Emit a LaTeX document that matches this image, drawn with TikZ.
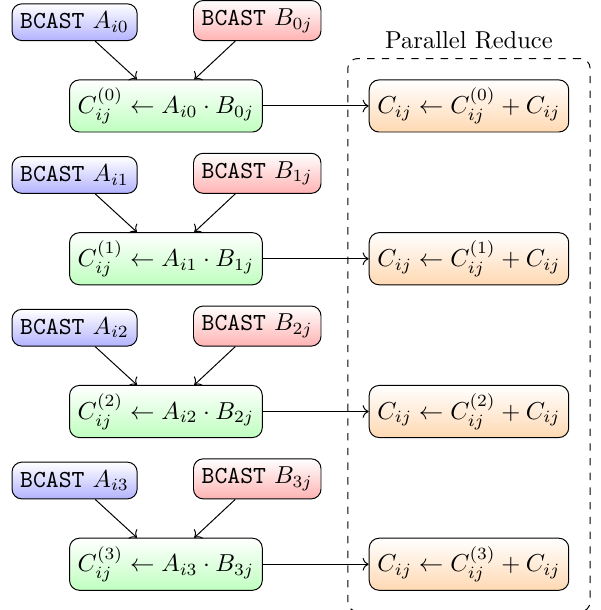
\documentclass[tikz,border=0pt]{standalone}
\usetikzlibrary{arrows, positioning, fit, calc, arrows.meta}
\tikzset{
    % broadcast boxes
    bcasta/.style={
           rectangle,
           rounded corners,
           draw=black,
           top color=white, bottom color=blue!30},
    bcastb/.style={
           rectangle,
           rounded corners,
           draw=black,
           top color=white, bottom color=red!30},
    % local product
    mult/.style={
           rectangle,
           rounded corners,
           draw=black,
           top color=white, bottom color=green!25},
    % reduce step
    accum/.style={
           rectangle,
           rounded corners,
           draw=black,
           top color=white, bottom color=orange!30},
    % arrow style
    pil/.style={->}
}

\begin{document}
\begin{tikzpicture}[node distance=1.43cm and 1.52cm, auto]
	\useasboundingbox (-2.38,1.52) rectangle (6.23,-7.23);
	%
	% products
	%
	\node[mult] (mul0) {$C_{ij}^{(0)} \leftarrow A_{i0} \cdot B_{0j}$};
	\node[mult, below = of mul0] (mul1) {$C_{ij}^{(1)} \leftarrow A_{i1} \cdot B_{1j}$};
	\node[mult, below = of mul1] (mul2) {$C_{ij}^{(2)} \leftarrow A_{i2} \cdot B_{2j}$};
	\node[mult, below = of mul2] (mul3) {$C_{ij}^{(3)} \leftarrow A_{i3} \cdot B_{3j}$};
	%
	% broadcasts
	%
	\node[bcasta, above = 0.55cm of mul0.north, xshift=-1.31cm] (bca0) {\texttt{BCAST} $A_{i0}$};
	\node[bcastb, above = 0.55cm of mul0.north, xshift=1.31cm] (bcb0) {\texttt{BCAST} $B_{0j}$};
	\node[bcasta, above = 0.55cm of mul1.north, xshift=-1.31cm] (bca1) {\texttt{BCAST} $A_{i1}$};
	\node[bcastb, above = 0.55cm of mul1.north, xshift=1.31cm] (bcb1) {\texttt{BCAST} $B_{1j}$};
	\node[bcasta, above = 0.55cm of mul2.north, xshift=-1.31cm] (bca2) {\texttt{BCAST} $A_{i2}$};
	\node[bcastb, above = 0.55cm of mul2.north, xshift=1.31cm] (bcb2) {\texttt{BCAST} $B_{2j}$};
	\node[bcasta, above = 0.55cm of mul3.north, xshift=-1.31cm] (bca3) {\texttt{BCAST} $A_{i3}$};
	\node[bcastb, above = 0.55cm of mul3.north, xshift=1.31cm] (bcb3) {\texttt{BCAST} $B_{3j}$};
	%
	% reduction
	%
	\node[accum, right = of mul0] (acc0) {$C_{ij} \leftarrow C_{ij}^{(0)} + C_{ij}$};
	\node[accum, right = of mul1] (acc1) {$C_{ij} \leftarrow C_{ij}^{(1)} + C_{ij}$};
	\node[accum, right = of mul2] (acc2) {$C_{ij} \leftarrow C_{ij}^{(2)} + C_{ij}$};
	\node[accum, right = of mul3] (acc3) {$C_{ij} \leftarrow C_{ij}^{(3)} + C_{ij}$};
	\node[draw, dashed, rounded corners, inner sep=0.3cm, fit=(acc0)(acc3),
	      label=above:Parallel Reduce] (redbox) {};
	%
	% links
	%
	\draw[pil] (bca0) -- (mul0);
	\draw[pil] (bcb0) -- (mul0);
	\draw[pil] (bca1) -- (mul1);
	\draw[pil] (bcb1) -- (mul1);
	\draw[pil] (bca2) -- (mul2);
	\draw[pil] (bcb2) -- (mul2);
	\draw[pil] (bca3) -- (mul3);
	\draw[pil] (bcb3) -- (mul3);
	\draw[pil] (mul0) -- (acc0);
	\draw[pil] (mul1) -- (acc1);
	\draw[pil] (mul2) -- (acc2);
	\draw[pil] (mul3) -- (acc3);
\end{tikzpicture}
\end{document}
